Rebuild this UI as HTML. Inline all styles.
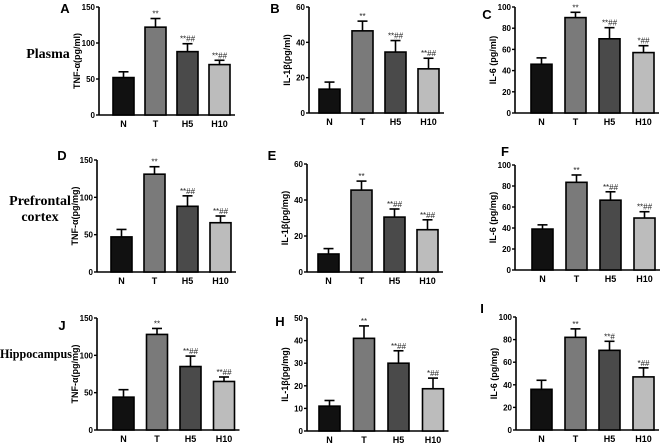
<!DOCTYPE html>
<html><head><meta charset="utf-8"><style>
body{margin:0;background:#fff;width:669px;height:444px;overflow:hidden}
svg{display:block;font-family:"Liberation Sans",sans-serif}
</style></head><body>
<svg id="fig" width="669" height="444" viewBox="0 0 669 444">
<text x="48" y="58" font-family="Liberation Serif" font-weight="bold" font-size="14" text-anchor="middle">Plasma</text>
<text x="40" y="205" font-family="Liberation Serif" font-weight="bold" font-size="14" text-anchor="middle">Prefrontal</text>
<text x="40" y="221" font-family="Liberation Serif" font-weight="bold" font-size="14" text-anchor="middle">cortex</text>
<text x="0" y="358" font-family="Liberation Serif" font-weight="bold" font-size="13" textLength="72" lengthAdjust="spacingAndGlyphs">Hippocampus</text>
</svg>
<script>
const categories=["N","T","H5","H10"];
const colors=["#111111","#7a7a7a","#4a4a4a","#bcbcbc"];
const valsA=[52,122,88,70], errA=[8,12,11,6];
const valsB=[13.5,46.5,34.5,25], errB=[4,5.5,6.5,6];
const valsC=[46,90,70,57], errC=[6,5,10.5,6.5];
const valsD=[47,131,88,66], errD=[10,10,14,9];
const valsE=[10,45.5,30.5,23.5], errE=[3,5,4.5,5.5];
const valsF=[39,83.5,66.5,49.5], errF=[4,7,8,6];
const valsJ=[44,128,85,65], errJ=[10,8,14,6];
const valsH=[11,41,30,18.7], errH=[2.5,5.5,5.5,4.7];
const valsI=[36,82,70.5,47], errI=[8,7.5,8,8];
const ticks150=[0,50,100,150], ticks60=[0,20,40,60], ticks100=[0,20,40,60,80,100], ticks50=[0,10,20,30,40,50];
const annAB=["","**","**##","**##"], annC=["","**","**##","*##"], annH=["","**","**##","*##"], annI=["","**","**#","*##"];
const panels=[
 {id:"A",ax:99,top:7,bot:115,b0:113,pitch:32,vals:valsA,err:errA,ticks:ticks150,title:"TNF-α(pg/ml)",ann:annAB,lx:65,ly:13},
 {id:"B",ax:309,top:7,bot:113,b0:319,pitch:33,vals:valsB,err:errB,ticks:ticks60,title:"IL-1β(pg/ml)",ann:annAB,lx:275,ly:13},
 {id:"C",ax:515,top:7,bot:113,b0:531,pitch:34,vals:valsC,err:errC,ticks:ticks100,title:"IL-6 (pg/ml)",ann:annC,lx:487,ly:19},
 {id:"D",ax:97,top:160,bot:272,b0:111,pitch:33,vals:valsD,err:errD,ticks:ticks150,title:"TNF-α(pg/mg)",ann:annAB,lx:62,ly:160},
 {id:"E",ax:307,top:164,bot:272,b0:318,pitch:33,vals:valsE,err:errE,ticks:ticks60,title:"IL-1β(pg/mg)",ann:annAB,lx:272,ly:160},
 {id:"F",ax:515,top:165,bot:270,b0:532,pitch:34,vals:valsF,err:errF,ticks:ticks100,title:"IL-6 (pg/mg)",ann:annAB,lx:505,ly:156},
 {id:"J",ax:97,top:318,bot:430,b0:113,pitch:33.5,vals:valsJ,err:errJ,ticks:ticks150,title:"TNF-α(pg/mg)",ann:annAB,lx:62,ly:330},
 {id:"H",ax:307,top:318,bot:431,b0:319,pitch:34.5,vals:valsH,err:errH,ticks:ticks50,title:"IL-1β(pg/mg)",ann:annH,lx:280,ly:326},
 {id:"I",ax:516,top:317,bot:430,b0:531,pitch:34,vals:valsI,err:errI,ticks:ticks100,title:"IL-6 (pg/mg)",ann:annI,lx:482,ly:313}
];
const svg=document.getElementById('fig');
const NS="http://www.w3.org/2000/svg";
function mk(tag,attrs,parent,txt){const e=document.createElementNS(NS,tag);for(const k in attrs)e.setAttribute(k,attrs[k]);if(txt!==undefined)e.textContent=txt;parent.appendChild(e);return e;}
panels.forEach(p=>{
 const g=mk('g',{},svg);
 
 
 const maxV=p.ticks[p.ticks.length-1];
 const y=v=>p.bot-(v/maxV)*(p.bot-p.top);
 const right=p.b0+3*p.pitch+26;
 const lt=mk('text',{x:p.lx,y:p.ly,'font-size':13,'font-weight':'bold','text-anchor':'middle'},g,p.id);
 
 
 const ya=mk('line',{x1:p.ax,y1:p.top,x2:p.ax,y2:p.bot,stroke:'#000','stroke-width':1.6},g);
 
 
 const xa=mk('line',{x1:p.ax,y1:p.bot,x2:right,y2:p.bot,stroke:'#000','stroke-width':1.6},g);
 
 
 p.ticks.forEach(t=>{
  mk('line',{x1:p.ax-3,y1:y(t),x2:p.ax,y2:y(t),stroke:'#000','stroke-width':1.4},g);
  const tl=mk('text',{x:p.ax-4,y:y(t)+3,'font-size':8,'font-weight':'bold','text-anchor':'end'},g,String(t));
  
  
 });
 const tx=p.ax-19, ty=(p.top+p.bot)/2;
 const tt=mk('text',{x:tx,y:ty,'font-size':9,'font-weight':'bold','text-anchor':'middle',transform:`rotate(-90 ${tx} ${ty})`},g,p.title);
 
 
 categories.forEach((c,i)=>{
  const x0=p.b0+i*p.pitch, w=21, v=p.vals[i], e=p.err[i], cx=x0+w/2;
  mk('line',{x1:cx,y1:y(v),x2:cx,y2:y(v+e),stroke:'#000','stroke-width':1.6},g);
  mk('line',{x1:cx-5,y1:y(v+e),x2:cx+5,y2:y(v+e),stroke:'#000','stroke-width':1.6},g);
  const r=mk('rect',{x:x0,y:y(v),width:w,height:p.bot-y(v),fill:colors[i],stroke:'#000','stroke-width':1.6},g);
  
  
  const xl=mk('text',{x:cx,y:p.bot+12,'font-size':9,'font-weight':'bold','text-anchor':'middle'},g,c);
  
  
  if(p.ann[i]){
   const an=mk('text',{x:cx,y:y(v+e)-2,'font-size':8,'text-anchor':'middle',fill:'#222'},g,p.ann[i]);
   
   
  }
 });
});
</script>
</body></html>
